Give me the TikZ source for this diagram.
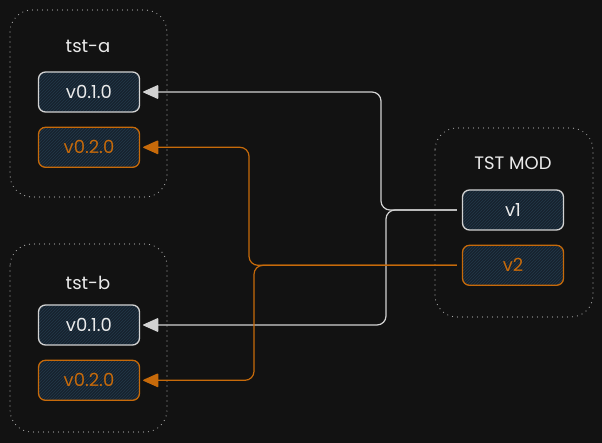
\documentclass[tikz,border=0pt]{standalone}
\usepackage{fontspec}
\setmainfont{Poppins}
\usepackage{tikz}
\usetikzlibrary{arrows.meta, positioning, patterns}

\definecolor{bgdark}{HTML}{121212}
\definecolor{boxfill}{HTML}{17232E}
\definecolor{hatch}{HTML}{22384A}
\definecolor{lineg}{HTML}{D2D2D2}
\definecolor{dotg}{HTML}{A8A8A8}
\definecolor{orng}{HTML}{C76A0A}

\begin{document}
\begin{tikzpicture}[
  x=1pt, y=-1pt,
  font=\fontsize{18}{21}\selectfont,
  grp/.style={draw=dotg, line width=1.2pt, dash pattern=on 0pt off 5pt,
              line cap=round, rounded corners=22pt},
  ver/.style={draw=lineg, rounded corners=7pt, line width=1.3pt,
              minimum width=101pt, minimum height=40pt, text=white!92!black,
              pattern=north east lines, pattern color=hatch,
              preaction={fill=boxfill}},
  vero/.style={ver, draw=orng, text=orng},
  lbl/.style={text=white!92!black},
  wline/.style={draw=lineg, line width=1.2pt, rounded corners=9pt,
                -{Triangle[length=16pt, width=14pt, round, fill=lineg]},
                shorten <=5pt, shorten >=3pt},
  oline/.style={wline, draw=orng,
                -{Triangle[length=16pt, width=14pt, round, fill=orng]}},
  node distance=14pt
]
% canvas
\fill[bgdark] (0,0) rectangle (602,443);

% left groups
\draw[grp] (10,10) rectangle (167,197);
\node[lbl] (lbla) at (88,46) {tst-a};
\node[ver] (v010a) at (89,92) {v0.1.0};
\node[vero, below=of v010a] (v020a) {v0.2.0};

\draw[grp] (10,244) rectangle (167,432);
\node[lbl] (lblb) at (88,283) {tst-b};
\node[ver] (v010b) at (89,325) {v0.1.0};
\node[vero, below=of v010b] (v020b) {v0.2.0};

% module
\draw[grp] (435,128) rectangle (593,317);
\node[lbl] (lblmod) at (513,163) {TST MOD};
\node[ver] (v1) at (513,210) {v1};
\node[vero, below=of v1] (v2) {v2};

% connectors
\coordinate (wa) at (381,0);
\coordinate (wb) at (386,0);
\coordinate (oa) at (249,0);
\coordinate (ob) at (254,0);

\draw[wline] (v1.west) -- (v1.west -| wa) |- (v010a.east);
\draw[wline] (v1.west) -- (v1.west -| wb) |- (v010b.east);
\draw[oline] (v2.west) -- (v2.west -| oa) |- (v020a.east);
\draw[oline] (v2.west) -- (v2.west -| ob) |- (v020b.east);

\end{tikzpicture}
\end{document}
